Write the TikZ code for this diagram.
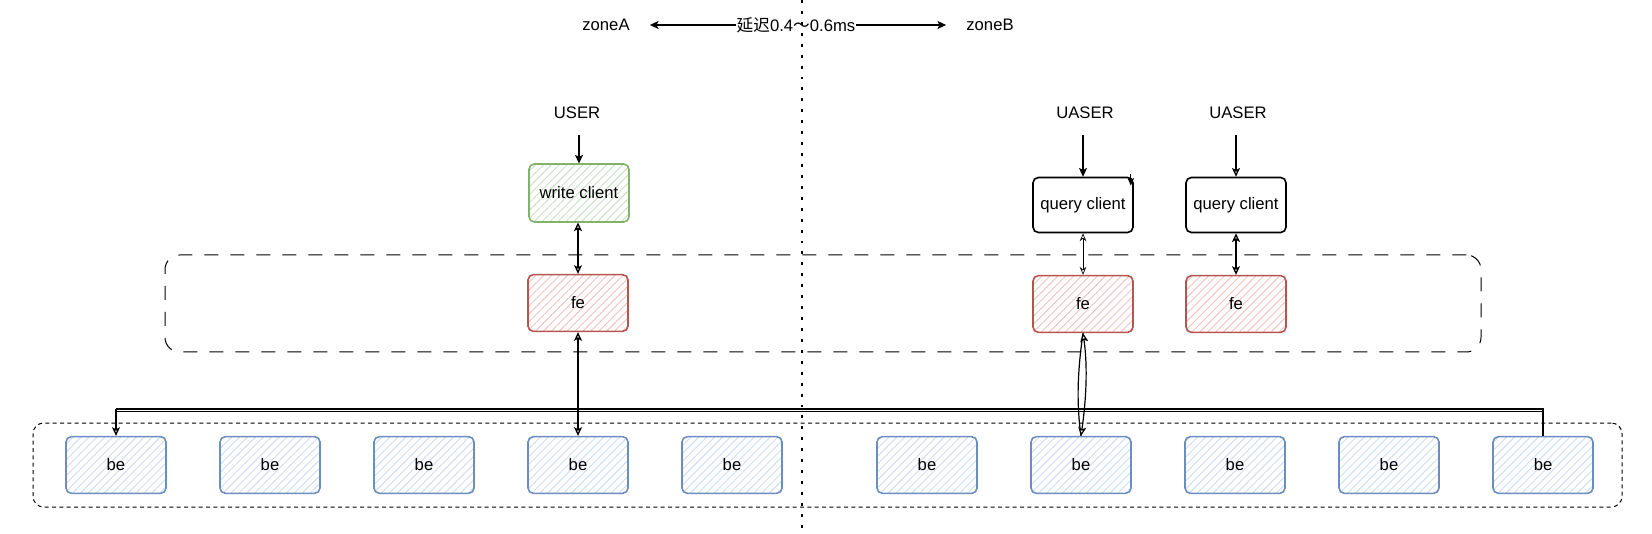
\documentclass[tikz,border=0pt]{standalone}
\usepackage{fontspec}
\setmainfont{Liberation Sans}
\newfontfamily\cjk{Noto Sans CJK SC}
\usetikzlibrary{arrows.meta,patterns.meta,calc}
\definecolor{gStroke}{HTML}{82B366}
\definecolor{gHatch}{HTML}{C6E0C3}
\definecolor{rStroke}{HTML}{B85450}
\definecolor{rHatch}{HTML}{F5C2BF}
\definecolor{bStroke}{HTML}{6C8EBF}
\definecolor{bHatch}{HTML}{CCDDF6}
\begin{document}
\begin{tikzpicture}[x=0.75pt,y=-0.75pt,
  font=\fontsize{12.5}{15}\selectfont,
  lbl/.style={inner sep=0pt},
  box/.style={draw, line width=1.2pt, rounded corners=4pt, minimum width=75pt, minimum height=42.5pt, inner sep=0pt},
  hatch/.style={pattern={Lines[angle=45,distance=4.2pt,line width=0.7pt]}, pattern color=#1},
  wcbox/.style={box, draw=gStroke, hatch=gHatch},
  febox/.style={box, draw=rStroke, hatch=rHatch},
  bebox/.style={box, draw=bStroke, hatch=bHatch},
  qcbox/.style={box, draw=black, fill=white},
  conn/.style={line width=1pt},
  arrF/.style={conn, -{Stealth[length=6.5pt,width=6pt,inset=1.5pt]}},
  arrO/.style={conn, -{Stealth[open,length=6.5pt,width=6pt,inset=1.5pt,fill=white]}},
  arrOO/.style={conn, {Stealth[open,length=6.5pt,width=6pt,inset=1.5pt,fill=white]}-{Stealth[open,length=6.5pt,width=6pt,inset=1.5pt,fill=white]}},
  arrThin/.style={line width=0.5pt, {Stealth[open,length=6pt,width=5pt,inset=2pt,fill=white]}-{Stealth[open,length=6pt,width=5pt,inset=2pt,fill=white]}},
  zonebox/.style={draw, line width=0.75pt, dash pattern=on 10.5pt off 9pt, rounded corners=11pt, inner sep=0pt},
  bezonebox/.style={draw, line width=0.75pt, dash pattern=on 3pt off 2.5pt, rounded corners=8pt, inner sep=0pt},
  busline/.style={line width=0.8pt},
]
\useasboundingbox (0,0) rectangle (1652,534);

% containers
\node[zonebox, minimum width=987pt, minimum height=72.75pt] (fezone) at (823,303.5) {};
\node[bezonebox, minimum width=1191.75pt, minimum height=63pt] (bezone) at (827.5,465) {};

% top labels
\node[lbl] (zoneA) at (606,25) {zoneA};
\node[lbl] (zoneB) at (990,25) {zoneB};
\node[inner sep=0.5pt, fill=white] (lat) at (796,25) {{\cjk 延迟}0.4{\cjk ～}0.6ms};
\draw[arrF, shorten >=15pt] (lat.west) -- (lat.west -| zoneA.east);
\draw[arrF, shorten >=15pt] (lat.east) -- (lat.east -| zoneB.west);

% users
\node[lbl] (user) at (577,113) {USER};
\node[lbl] (uaser1) at (1085,113) {UASER};
\node[lbl] (uaser2) at (1238,113) {UASER};

% clients
\node[wcbox, minimum height=43.5pt] (wc) at (579,193) {write client};
\node[qcbox, minimum height=41.25pt] (qc1) at (1083,205) {query client};
\node[qcbox, minimum height=41.25pt] (qc2) at (1236,205) {query client};

% fe
\node[febox] (fe1) at (578,303) {fe};
\node[febox] (fe2) at (1083,304) {fe};
\node[febox] (fe3) at (1236,304) {fe};

% be
\foreach \i/\x in {1/116,2/270,3/424,4/578,5/732,6/927,7/1081,8/1235,9/1389,10/1543}
  \node[bebox] (be\i) at (\x,465) {be};

% user arrows
\draw[arrF, shorten <=12pt] (wc.north |- user.south) -- (wc.north);
\draw[arrF, shorten <=12pt] (qc1.north |- uaser1.south) -- (qc1.north);
\draw[arrO, shorten <=12pt] (qc2.north |- uaser2.south) -- (qc2.north);
\draw[line width=0.9pt, -{Stealth[length=6pt,width=5pt]}] ($(qc1.north east)+(-3,-3)$) -- ++(0,12);

% client <-> fe
\draw[arrOO] (wc.south -| fe1.north) -- (fe1.north);
\draw[arrThin] (qc1.south) -- (fe2.north);
\draw[arrOO] (qc2.south) -- (fe3.north);

% fe <-> be
\draw[arrOO] (fe1.south) -- (be4.north);
\draw[line width=0.9pt] (fe2.south) .. controls +(-5,35) and +(-5,-35) .. (be7.north);
\draw[arrOO, line width=0.9pt] (fe2.south) .. controls +(5,35) and +(5,-35) .. (be7.north);

% bus line
\coordinate (busR) at (1543,409);
\coordinate (busL) at (be1.north |- busR);
\draw[busline] (be10.north) -- (busR) -- (busL);
\draw[line width=0.6pt] ([yshift=-1.6pt]busR) -- ([yshift=-1.6pt]busL);
\draw[arrO] (busL) -- (be1.north);

% divider
\draw[line width=1.6pt, dash pattern=on 2.2pt off 6pt] (802,0) -- (802,534);
\end{tikzpicture}
\end{document}
